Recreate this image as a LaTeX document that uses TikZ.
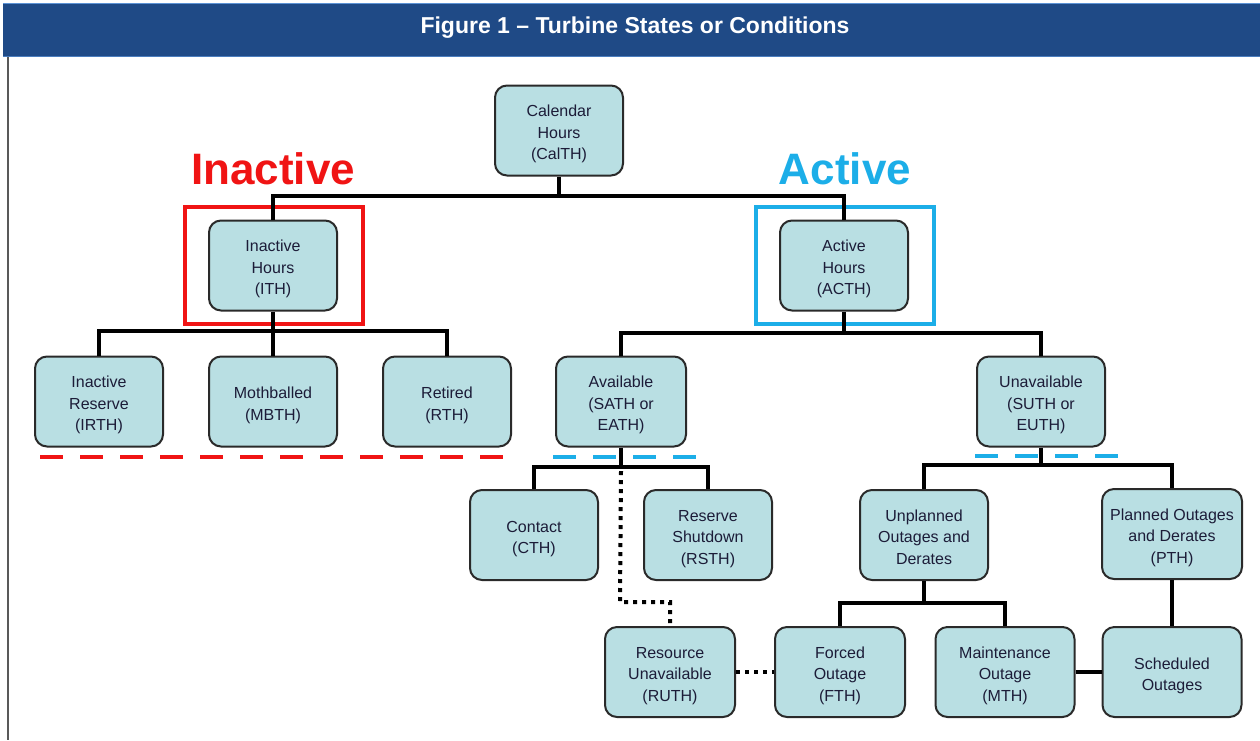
\documentclass[tikz,border=0pt]{standalone}
\usepackage{fontspec}
\setmainfont{Liberation Sans}
\definecolor{headblue}{HTML}{1F4A86}
\definecolor{headline}{HTML}{5C93D6}
\definecolor{boxfill}{HTML}{B9DFE3}
\definecolor{boxborder}{HTML}{2A2A2A}
\definecolor{boxtext}{HTML}{1C1C38}
\definecolor{hlred}{HTML}{F01414}
\definecolor{hlblue}{HTML}{1CAEE8}
\newcommand\boxtxt[1]{\raisebox{0pt}[\dimexpr\height+7pt\relax][\depth]{\begin{tabular}{@{}c@{}}#1\end{tabular}}}
\tikzset{
  box/.style={draw=boxborder, line width=2, fill=boxfill, rounded corners=12,
    minimum width=128, minimum height=90, align=center, text=boxtext,
    font=\fontsize{16}{21.5}\selectfont, inner sep=2},
  wbox/.style={box, minimum width=140},
  conn/.style={line width=4, draw=black},
  dotconn/.style={line width=4, draw=black, dash pattern=on 4pt off 5pt},
  hlbox/.style={line width=3.5, minimum width=178, minimum height=117, fill=none},
  reddash/.style={line width=4, draw=hlred, dash pattern=on 23pt off 17pt},
  bluedash/.style={line width=4, draw=hlblue, dash pattern=on 23pt off 17pt},
  biglabel/.style={font=\fontsize{44}{48}\selectfont\bfseries}
}
\begin{document}
\begin{tikzpicture}[x=1pt,y=-1pt]
\useasboundingbox (0,0) rectangle (1260,740);
% header
\fill[headblue] (3,4) rectangle (1260,57);
\draw[headline, line width=1.5] (3,3.5) -- (1260,3.5);
\draw[headline!70!headblue, line width=1.5] (3,56.5) -- (1260,56.5);
\node[text=white, font=\fontsize{23}{27}\selectfont\bfseries] (title) at (635,27.5) {Figure 1 -- Turbine States or Conditions};
\draw[gray!70!black, line width=1.5] (8,57) -- (8,740);

% highlight labels and boxes
\node[biglabel, text=hlred] (lblinact) at (273,169) {Inactive};
\node[biglabel, text=hlblue] (lblact) at (845,169) {Active};
\node[hlbox, draw=hlred] (redbox) at (274,265.5) {};
\node[hlbox, draw=hlblue] (bluebox) at (845,265.5) {};

% bus points
\coordinate (b1) at (559,196);
\coordinate (b2) at (273,331);
\coordinate (b3) at (844,333);
\coordinate (b4) at (621,467);
\coordinate (b5) at (1041,465);
\coordinate (b6) at (924,603);
\coordinate (d1) at (620,602);
\coordinate (d2) at (670,602);

% nodes
\node[box] (calth) at (559,130.5) {\boxtxt{Calendar\\Hours\\(CalTH)}};
\node[box] (ith) at (273,265.5) {\boxtxt{Inactive\\Hours\\(ITH)}};
\node[box] (acth) at (844,265.5) {\boxtxt{Active\\Hours\\(ACTH)}};
\node[box] (irth) at (99,401.5) {\boxtxt{Inactive\\Reserve\\(IRTH)}};
\node[box] (mbth) at (273,401.5) {\boxtxt{Mothballed\\(MBTH)}};
\node[box] (rth) at (447,401.5) {\boxtxt{Retired\\(RTH)}};
\node[box, minimum width=130] (avail) at (621,401.5) {\boxtxt{Available\\(SATH or\\EATH)}};
\node[box] (unavail) at (1041,401.5) {\boxtxt{Unavailable\\(SUTH or\\EUTH)}};
\node[box] (cth) at (534,535) {\boxtxt{Contact\\(CTH)}};
\node[box] (rsth) at (708,535) {\boxtxt{Reserve\\Shutdown\\(RSTH)}};
\node[box] (unpl) at (924,535) {\boxtxt{Unplanned\\Outages and\\Derates}};
\node[wbox] (pth) at (1172,534) {\boxtxt{Planned Outages\\and Derates\\(PTH)}};
\node[box, minimum width=130] (ruth) at (670,672) {\boxtxt{Resource\\Unavailable\\(RUTH)}};
\node[box, minimum width=130] (fth) at (840,672) {\boxtxt{Forced\\Outage\\(FTH)}};
\node[wbox, minimum width=139] (mth) at (1005,672) {\boxtxt{Maintenance\\Outage\\(MTH)}};
\node[wbox, minimum width=139] (sched) at (1172,672) {\boxtxt{Scheduled\\Outages}};

% connectors
\draw[conn] (calth.south) -- (b1);
\draw[conn] (ith.north) |- (b1) -| (acth.north);
\draw[conn] (ith.south) -- (b2);
\draw[conn] (irth.north) |- (b2) -| (rth.north);
\draw[conn] (b2) -- (mbth.north);
\draw[conn] (acth.south) -- (b3);
\draw[conn] (avail.north) |- (b3) -| (unavail.north);
\draw[conn] (avail.south) -- (b4);
\draw[conn] (cth.north) |- (b4) -| (rsth.north);
\draw[conn] (unavail.south) -- (b5);
\draw[conn] (unpl.north) |- (b5) -| (pth.north);
\draw[conn] (unpl.south) -- (b6);
\draw[conn] (fth.north) |- (b6) -| (mth.north);
\draw[conn] (pth.south) -- (sched.north);
\draw[conn] (mth.east) -- (sched.west);
\draw[dotconn] ([yshift=-4pt]b4) -- (d1) -- (d2) -- (ruth.north);
\draw[dotconn] (ruth.east) -- (fth.west);

% dashed underlines
\coordinate (r1) at (40,457);
\coordinate (r2) at (505,457);
\draw[reddash] (r1) -- (r2);
\coordinate (a1) at (553,457);
\coordinate (a2) at (697,457);
\draw[bluedash] (a1) -- (a2);
\coordinate (u1) at (975,456);
\coordinate (u2) at (1119,456);
\draw[bluedash] (u1) -- (u2);
\end{tikzpicture}
\end{document}
